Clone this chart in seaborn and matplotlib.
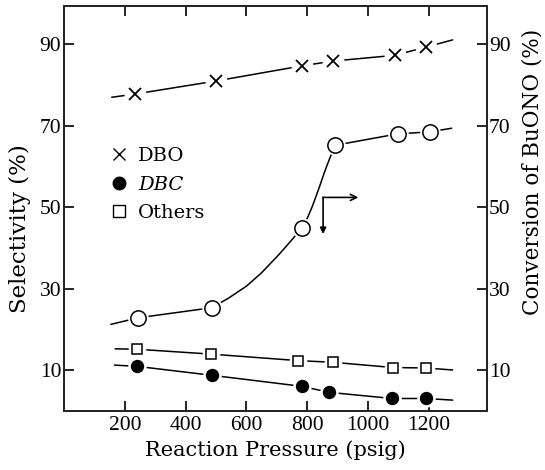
import matplotlib
matplotlib.use("Agg")
import matplotlib.pyplot as plt
import seaborn as sns
import pandas as pd
from matplotlib.lines import Line2D

# ---------------- data ----------------
pressure_ticks = [200, 400, 600, 800, 1000, 1200]
pct_ticks = [10, 30, 50, 70, 90]

# DBO selectivity (x markers) and its drawn line (incl. line ends)
dbo_p = [234, 500, 781, 885, 1087, 1189]
dbo_sel = [77.8, 81.0, 84.7, 85.9, 87.3, 89.3]
dbo_line_p = [157, 234, 500, 781, 885, 1087, 1189, 1278]
dbo_line_sel = [77.0, 77.8, 81.0, 84.7, 85.9, 87.3, 89.3, 91.1]

# DBC selectivity (filled circles)
dbc_p = [240, 486, 781, 873, 1079, 1189]
dbc_sel = [10.9, 8.7, 6.0, 4.5, 3.0, 3.0]
dbc_line_p = [166, 240, 486, 781, 873, 1079, 1189, 1278]
dbc_line_sel = [11.2, 10.9, 8.7, 6.0, 4.5, 3.0, 3.0, 2.6]

# Others selectivity (open squares)
oth_p = [240, 484, 771, 883, 1083, 1189]
oth_sel = [15.1, 13.9, 12.3, 11.9, 10.6, 10.5]
oth_line_p = [168, 240, 484, 771, 883, 1083, 1189, 1278]
oth_line_sel = [15.2, 15.1, 13.9, 12.3, 11.9, 10.6, 10.5, 10.0]

# Conversion of BuONO (open circles) and the hand-drawn curve through them
conv_p = [242, 486, 781, 891, 1097, 1203]
conv = [22.8, 25.3, 44.8, 65.2, 68.0, 68.5]
conv_curve_p = [154, 242, 486, 540, 600, 650, 706, 745, 781, 800, 815, 828,
                840, 852, 864, 876, 885, 891, 1097, 1203, 1275]
conv_curve = [21.2, 22.8, 25.3, 27.6, 30.6, 33.9, 38.3, 41.6, 44.8, 47.3, 49.9,
              52.5, 55.0, 57.6, 60.1, 62.4, 64.0, 65.2, 68.0, 68.5, 69.4]

legend_labels = ["DBO", "DBC", "Others"]

# ---------------- style ----------------
sns.set_theme(style="ticks")
plt.rcParams["font.family"] = ["DejaVu Serif", "DejaVu Sans"]
plt.rcParams["axes.linewidth"] = 1.4

fig = plt.figure(figsize=(5.45, 4.7), dpi=100)
ax = fig.add_axes([64 / 545, 1 - 410.7 / 470, (486.7 - 64) / 545, (410.7 - 6.5) / 470])
ax2 = ax.twinx()

K = "black"
LW = 1.1


def draw(axis, lx, ly, px, py, marker, ms, mfc, halo, mew=1.1):
    sns.lineplot(x=lx, y=ly, ax=axis, color=K, lw=LW, sort=False,
                 estimator=None, zorder=2)
    # white halo to open the line around each marker
    sns.lineplot(x=px, y=py, ax=axis, color="white", lw=0, marker="o",
                 ms=halo, mec="white", mfc="white", sort=False,
                 estimator=None, zorder=3)
    sns.lineplot(x=px, y=py, ax=axis, color=K, lw=0, marker=marker, ms=ms,
                 mec=K, mfc=mfc, mew=mew, sort=False, estimator=None, zorder=4)


draw(ax, dbo_line_p, dbo_line_sel, dbo_p, dbo_sel, "x", 9, K, 15, mew=1.3)
draw(ax, oth_line_p, oth_line_sel, oth_p, oth_sel, "s", 7.5, "white", 12)
draw(ax, dbc_line_p, dbc_line_sel, dbc_p, dbc_sel, "o", 8.5, K, 12.5)
draw(ax2, conv_curve_p, conv_curve, conv_p, conv, "o", 11, "white", 14)

for a in (ax, ax2):
    a.set_xlim(0, 1390)
    a.set_ylim(0, 99.3)
    a.set_yticks(pct_ticks)
    a.set_xticks(pressure_ticks)
    a.set_yticklabels([str(v) for v in pct_ticks], family="Liberation Serif")
    a.set_xticklabels([str(v) for v in pressure_ticks], family="Liberation Serif")

ax.tick_params(axis="both", direction="in", length=7, width=1.2, colors=K,
               labelsize=15.5, top=True, right=False)
ax.tick_params(axis="x", pad=4)
ax.tick_params(axis="y", pad=2)
ax2.tick_params(axis="y", direction="in", length=7, width=1.2, colors=K,
                labelsize=15.5, pad=1.5)
for s in ax.spines.values():
    s.set_linewidth(1.4)
    s.set_color(K)

ax.set_xlabel("Reaction Pressure (psig)", fontsize=15, color=K, labelpad=4)
ax.set_ylabel("Selectivity (%)", fontsize=16.5, color=K)
ax.yaxis.label.set_va("center")
ax.yaxis.set_label_coords(-0.104, 0.45)
ax2.set_ylabel("Conversion of BuONO (%)", fontsize=15.5, color=K)
ax2.yaxis.label.set_va("center")
ax2.yaxis.set_label_coords(1.108, 0.592)

# legend
handles = [
    Line2D([], [], color=K, lw=0, marker="x", ms=8, mew=1.0),
    Line2D([], [], color=K, lw=0, marker="o", ms=9, mfc=K),
    Line2D([], [], color=K, lw=0, marker="s", ms=8, mfc="white", mew=1.0),
]
leg = ax.legend(handles, legend_labels, loc="center left",
                bbox_to_anchor=(150, 55.5), bbox_transform=ax.transData,
                frameon=False, handlelength=1.0, handletextpad=0.45,
                labelspacing=0.54, borderpad=0, borderaxespad=0,
                labelcolor=K, prop={"family": "DejaVu Serif", "size": 14})
leg.get_texts()[1].set_fontstyle("italic")

# arrow pointing at the right axis
ax2.annotate("", xy=(852, 43.4), xytext=(852, 52.4),
             arrowprops=dict(arrowstyle="-|>", color=K, lw=1.2,
                             mutation_scale=9, shrinkA=0, shrinkB=0))
ax2.annotate("", xy=(968, 52.4), xytext=(851.4, 52.4),
             arrowprops=dict(arrowstyle="->", color=K, lw=1.2,
                             mutation_scale=11, shrinkA=0, shrinkB=0))

fig.savefig("out.png", dpi=100, facecolor="white")
